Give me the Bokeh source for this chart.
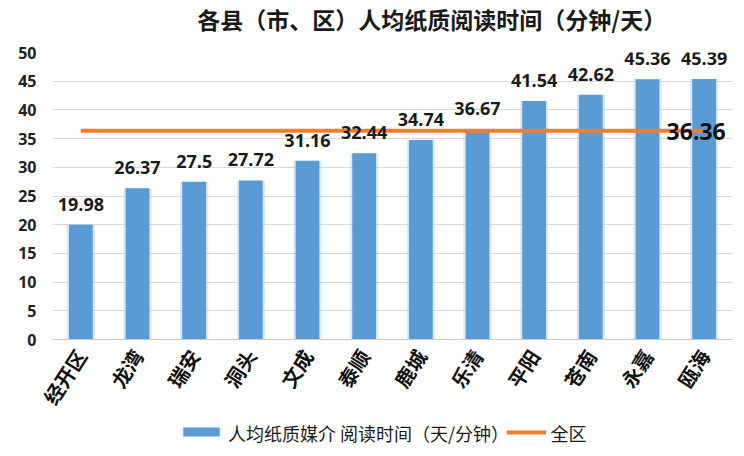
import math
from bokeh.plotting import figure
from bokeh.layouts import column
from bokeh.models import ColumnDataSource, FixedTicker, Range1d
from bokeh.core.properties import value
from bokeh.embed import file_html
from bokeh.resources import INLINE

title_text = "各县（市、区）人均纸质阅读时间（分钟/天）"
counties = ["经开区", "龙湾", "瑞安", "洞头", "文成", "泰顺", "鹿城", "乐清", "平阳", "苍南", "永嘉", "瓯海"]
minutes = [19.98, 26.37, 27.5, 27.72, 31.16, 32.44, 34.74, 36.67, 41.54, 42.62, 45.36, 45.39]
labels = ["19.98", "26.37", "27.5", "27.72", "31.16", "32.44", "34.74", "36.67", "41.54", "42.62", "45.36", "45.39"]
overall = 36.36
y_ticks = [0, 5, 10, 15, 20, 25, 30, 35, 40, 45, 50]
legend_labels = ["人均纸质媒介 阅读时间（天/分钟）", "全区"]

CJK = "Noto Sans CJK SC"
NUM = "Open Sans"
BLUE = "#5B9BD5"
ORANGE = "#ED7D31"


def strip(h):
    f = figure(width=744, height=h, x_range=Range1d(0, 744), y_range=Range1d(0, h),
               output_backend="svg", toolbar_location=None,
               min_border=0, min_border_left=0, min_border_right=0,
               min_border_top=0, min_border_bottom=0)
    f.axis.visible = False
    f.grid.visible = False
    f.outline_line_color = None
    f.background_fill_color = "white"
    f.border_fill_color = "white"
    return f


# title strip (pixel coordinates, y up)
tt = strip(40)
tt.text(x=[415], y=[22], text=[title_text], text_align="center", text_baseline="middle",
        text_font=value(CJK), text_font_size="23px", text_font_style="bold", text_color="#1a1a1a")

src = ColumnDataSource(dict(x=counties, y=minutes, lab=labels))

p = figure(x_range=counties, y_range=Range1d(0, 50), width=744, height=380,
           output_backend="svg", toolbar_location=None,
           min_border_left=52, min_border_right=12, min_border_top=12, min_border_bottom=80)
p.outline_line_color = None
p.background_fill_color = "white"
p.border_fill_color = "white"

# soft shadow behind bars
p.vbar(x="x", top="y", width=0.5, source=src, fill_color="#9fbfe0", fill_alpha=0.35, line_color=None)
p.vbar(x="x", top="y", width=0.42, source=src, fill_color=BLUE, line_color=None)

p.line(x=[counties[0], counties[-1]], y=[overall, overall], line_color=ORANGE, line_width=4)

p.text(x="x", y="y", text="lab", source=src, text_align="center", text_baseline="bottom",
       y_offset=-14, text_font=value(NUM), text_font_size="18px", text_font_style="bold",
       text_color="#1a1a1a")
p.text(x=[counties[-1]], y=[overall], text=[f"{overall:.2f}"], text_align="center",
       text_baseline="middle", x_offset=-8, y_offset=1, text_font=value(NUM),
       text_font_size="23px", text_font_style="bold", text_color="#111111")

p.yaxis.ticker = FixedTicker(ticks=y_ticks)
p.yaxis.axis_line_color = None
p.yaxis.major_tick_line_color = None
p.yaxis.minor_tick_line_color = None
p.yaxis.major_label_text_font = NUM
p.yaxis.major_label_text_font_size = "16px"
p.yaxis.major_label_text_font_style = "bold"
p.yaxis.major_label_text_color = "#222222"
p.yaxis.major_label_standoff = 10

p.xaxis.axis_line_color = "#c8c8c8"
p.xaxis.major_tick_line_color = None
p.xaxis.minor_tick_line_color = None
p.xaxis.major_label_orientation = 1.0
p.xaxis.major_label_text_font = CJK
p.xaxis.major_label_text_font_size = "20px"
p.xaxis.major_label_text_font_style = "bold"
p.xaxis.major_label_text_color = "#111111"
p.xaxis.major_label_standoff = 6

p.xgrid.grid_line_color = None
p.ygrid.grid_line_color = "#d9d9d9"
p.ygrid.grid_line_width = 1

# legend strip (pixel coordinates, y up)
lg = strip(36)
lg.quad(left=[143], right=[183], bottom=[20], top=[29], fill_color=BLUE, line_color=None)
lg.line(x=[497, 540], y=[24, 24], line_color=ORANGE, line_width=4)
lg.text(x=[192, 545], y=[24, 24], text=legend_labels, text_baseline="middle", text_align="left",
        text_font=value(CJK), text_font_size="18px", text_color="#1a1a1a")

layout = column(tt, p, lg, spacing=0)
open("out.html", "w").write(file_html(layout, INLINE))
